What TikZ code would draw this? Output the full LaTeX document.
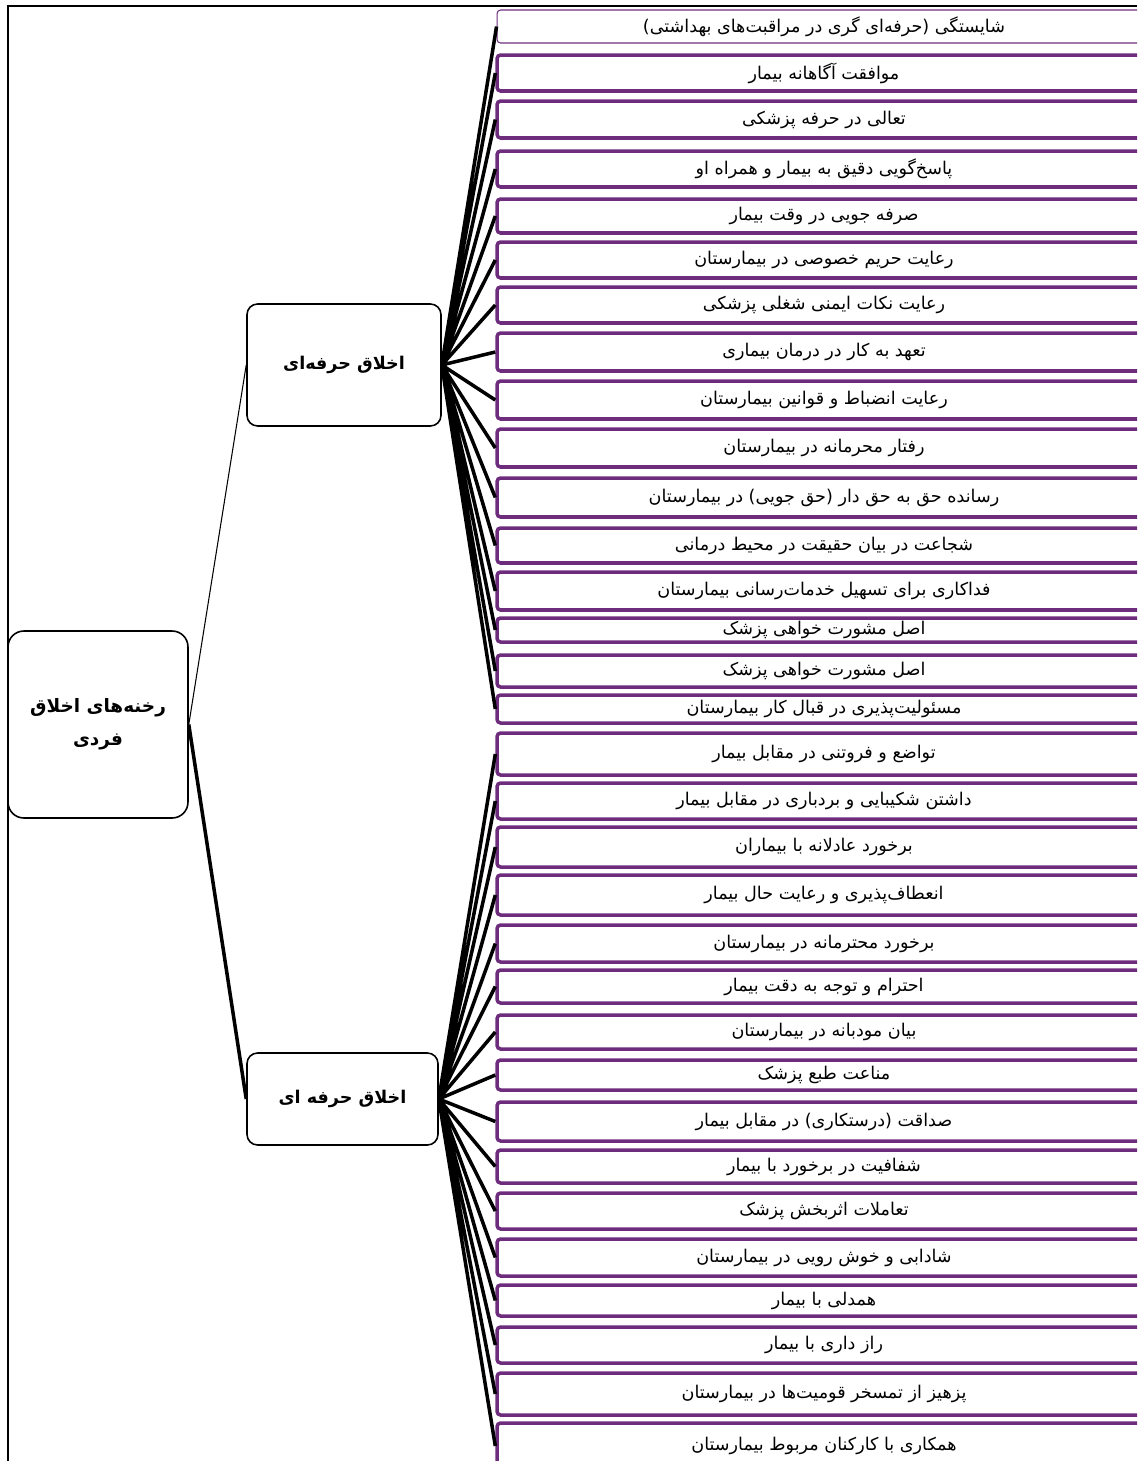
\documentclass[tikz,border=0pt]{standalone}
\usepackage{fontspec}
\newfontfamily\arabicfont[Script=Arabic]{DejaVu Sans}
\TeXXeTstate=1
\usepackage[HTML]{xcolor}
\usetikzlibrary{positioning}
\definecolor{boxpurple}{HTML}{6E2D7C}
\newcommand{\fatext}[1]{\beginR #1\endR}
\newcommand{\leaffont}{\arabicfont\fontsize{10}{12}\selectfont}

\begin{document}
\begin{tikzpicture}[x=0.02cm, y=-0.02cm,
    every node/.style={align=center, font=\leaffont},
    leaf/.style={draw=boxpurple, line width=2pt, rounded corners=2pt, minimum width=13.08cm, inner sep=0pt},
    topic/.style={draw, line width=0.9pt, rounded corners=6pt, font=\leaffont\bfseries},
    link/.style={line width=2pt}]
    \useasboundingbox (0,0) rectangle (1137,1461);
    \clip (0,0) rectangle (1137,1461);

    % frame
    \draw[line width=1.1pt] (8,1461) -- (8,6) -- (1137,6);

    % root and the two groups
    \node[topic, rounded corners=9pt, minimum width=3.6cm, minimum height=3.74cm,
        font=\arabicfont\bfseries\fontsize{10.5}{19}\selectfont] (root) at (98,724.5) {\fatext{رخنه‌های اخلاق}\\\fatext{فردی}};
    \node[topic, minimum width=3.88cm, minimum height=2.44cm] (pro) at (344,365) {\fatext{اخلاق حرفه‌ای}};
    \node[topic, minimum width=3.82cm, minimum height=1.84cm] (ethic) at (342.5,1099) {\fatext{اخلاق حرفه ای}};

    % first group
    \node[leaf, line width=0.6pt, minimum height=0.66cm] (l1) at (824,26.5) {\fatext{شایستگی (حرفه‌ای گری در مراقبت‌های بهداشتی)}};
    \node[leaf, minimum height=0.72cm] (l2) at (824,73) {\fatext{موافقت آگاهانه بیمار}};
    \node[leaf, minimum height=0.74cm] (l3) at (824,119.5) {\fatext{تعالی در حرفه پزشکی}};
    \node[leaf, minimum height=0.72cm] (l4) at (824,169) {\fatext{پاسخ‌گویی دقیق به بیمار و همراه او}};
    \node[leaf, minimum height=0.68cm] (l5) at (824,216) {\fatext{صرفه جویی در وقت بیمار}};
    \node[leaf, minimum height=0.72cm] (l6) at (824,260) {\fatext{رعایت حریم خصوصی در بیمارستان}};
    \node[leaf, minimum height=0.72cm] (l7) at (824,305) {\fatext{رعایت نکات ایمنی شغلی پزشکی}};
    \node[leaf, minimum height=0.76cm] (l8) at (824,352) {\fatext{تعهد به کار در درمان بیماری}};
    \node[leaf, minimum height=0.76cm] (l9) at (824,400) {\fatext{رعایت انضباط و قوانین بیمارستان}};
    \node[leaf, minimum height=0.76cm] (l10) at (824,448) {\fatext{رفتار محرمانه در بیمارستان}};
    \node[leaf, minimum height=0.78cm] (l11) at (824,497.5) {\fatext{رسانده حق به حق دار (حق جویی) در بیمارستان}};
    \node[leaf, minimum height=0.70cm] (l12) at (824,545.5) {\fatext{شجاعت در بیان حقیقت در محیط درمانی}};
    \node[leaf, minimum height=0.76cm] (l13) at (824,591) {\fatext{فداکاری برای تسهیل خدمات‌رسانی بیمارستان}};
    \node[leaf, minimum height=0.48cm] (l14) at (824,630) {\fatext{اصل مشورت خواهی پزشک}};
    \node[leaf, minimum height=0.64cm] (l15) at (824,671) {\fatext{اصل مشورت خواهی پزشک}};
    \node[leaf, minimum height=0.56cm] (l16) at (824,709) {\fatext{مسئولیت‌پذیری در قبال کار بیمارستان}};

    % second group
    \node[leaf, minimum height=0.84cm] (l17) at (824,754) {\fatext{تواضع و فروتنی در مقابل بیمار}};
    \node[leaf, minimum height=0.72cm] (l18) at (824,801) {\fatext{داشتن شکیبایی و بردباری در مقابل بیمار}};
    \node[leaf, minimum height=0.80cm] (l19) at (824,847) {\fatext{برخورد عادلانه با بیماران}};
    \node[leaf, minimum height=0.80cm] (l20) at (824,895) {\fatext{انعطاف‌پذیری و رعایت حال بیمار}};
    \node[leaf, minimum height=0.74cm] (l21) at (824,943.5) {\fatext{برخورد محترمانه در بیمارستان}};
    \node[leaf, minimum height=0.66cm] (l22) at (824,986.5) {\fatext{احترام و توجه به دقت بیمار}};
    \node[leaf, minimum height=0.68cm] (l23) at (824,1032) {\fatext{بیان مودبانه در بیمارستان}};
    \node[leaf, minimum height=0.60cm] (l24) at (824,1075) {\fatext{مناعت طبع پزشک}};
    \node[leaf, minimum height=0.78cm] (l25) at (824,1121.5) {\fatext{صداقت (درستکاری) در مقابل بیمار}};
    \node[leaf, minimum height=0.66cm] (l26) at (824,1166.5) {\fatext{شفافیت در برخورد با بیمار}};
    \node[leaf, minimum height=0.72cm] (l27) at (824,1211) {\fatext{تعاملات اثربخش پزشک}};
    \node[leaf, minimum height=0.74cm] (l28) at (824,1257.5) {\fatext{شادابی و خوش رویی در بیمارستان}};
    \node[leaf, minimum height=0.62cm] (l29) at (824,1300.5) {\fatext{همدلی با بیمار}};
    \node[leaf, minimum height=0.72cm] (l30) at (824,1345) {\fatext{راز داری با بیمار}};
    \node[leaf, minimum height=0.84cm] (l31) at (824,1394) {\fatext{پزهیز از تمسخر قومیت‌ها در بیمارستان}};
    \node[leaf, minimum height=0.92cm] (l32) at (824,1446) {\fatext{همکاری با کارکنان مربوط بیمارستان}};

    % connectors
    \draw[line width=0.6pt] (root.east) -- (pro.west);
    \draw[link] (root.east) -- (ethic.west);
    \draw[link] (pro.east) -- (l1.west) (pro.east) -- (l2.west) (pro.east) -- (l3.west) (pro.east) -- (l4.west)
        (pro.east) -- (l5.west) (pro.east) -- (l6.west) (pro.east) -- (l7.west) (pro.east) -- (l8.west)
        (pro.east) -- (l9.west) (pro.east) -- (l10.west) (pro.east) -- (l11.west) (pro.east) -- (l12.west)
        (pro.east) -- (l13.west) (pro.east) -- (l14.west) (pro.east) -- (l15.west) (pro.east) -- (l16.west);
    \draw[link] (ethic.east) -- (l17.west) (ethic.east) -- (l18.west) (ethic.east) -- (l19.west) (ethic.east) -- (l20.west)
        (ethic.east) -- (l21.west) (ethic.east) -- (l22.west) (ethic.east) -- (l23.west) (ethic.east) -- (l24.west)
        (ethic.east) -- (l25.west) (ethic.east) -- (l26.west) (ethic.east) -- (l27.west) (ethic.east) -- (l28.west)
        (ethic.east) -- (l29.west) (ethic.east) -- (l30.west) (ethic.east) -- (l31.west) (ethic.east) -- (l32.west);
\end{tikzpicture}
\end{document}
